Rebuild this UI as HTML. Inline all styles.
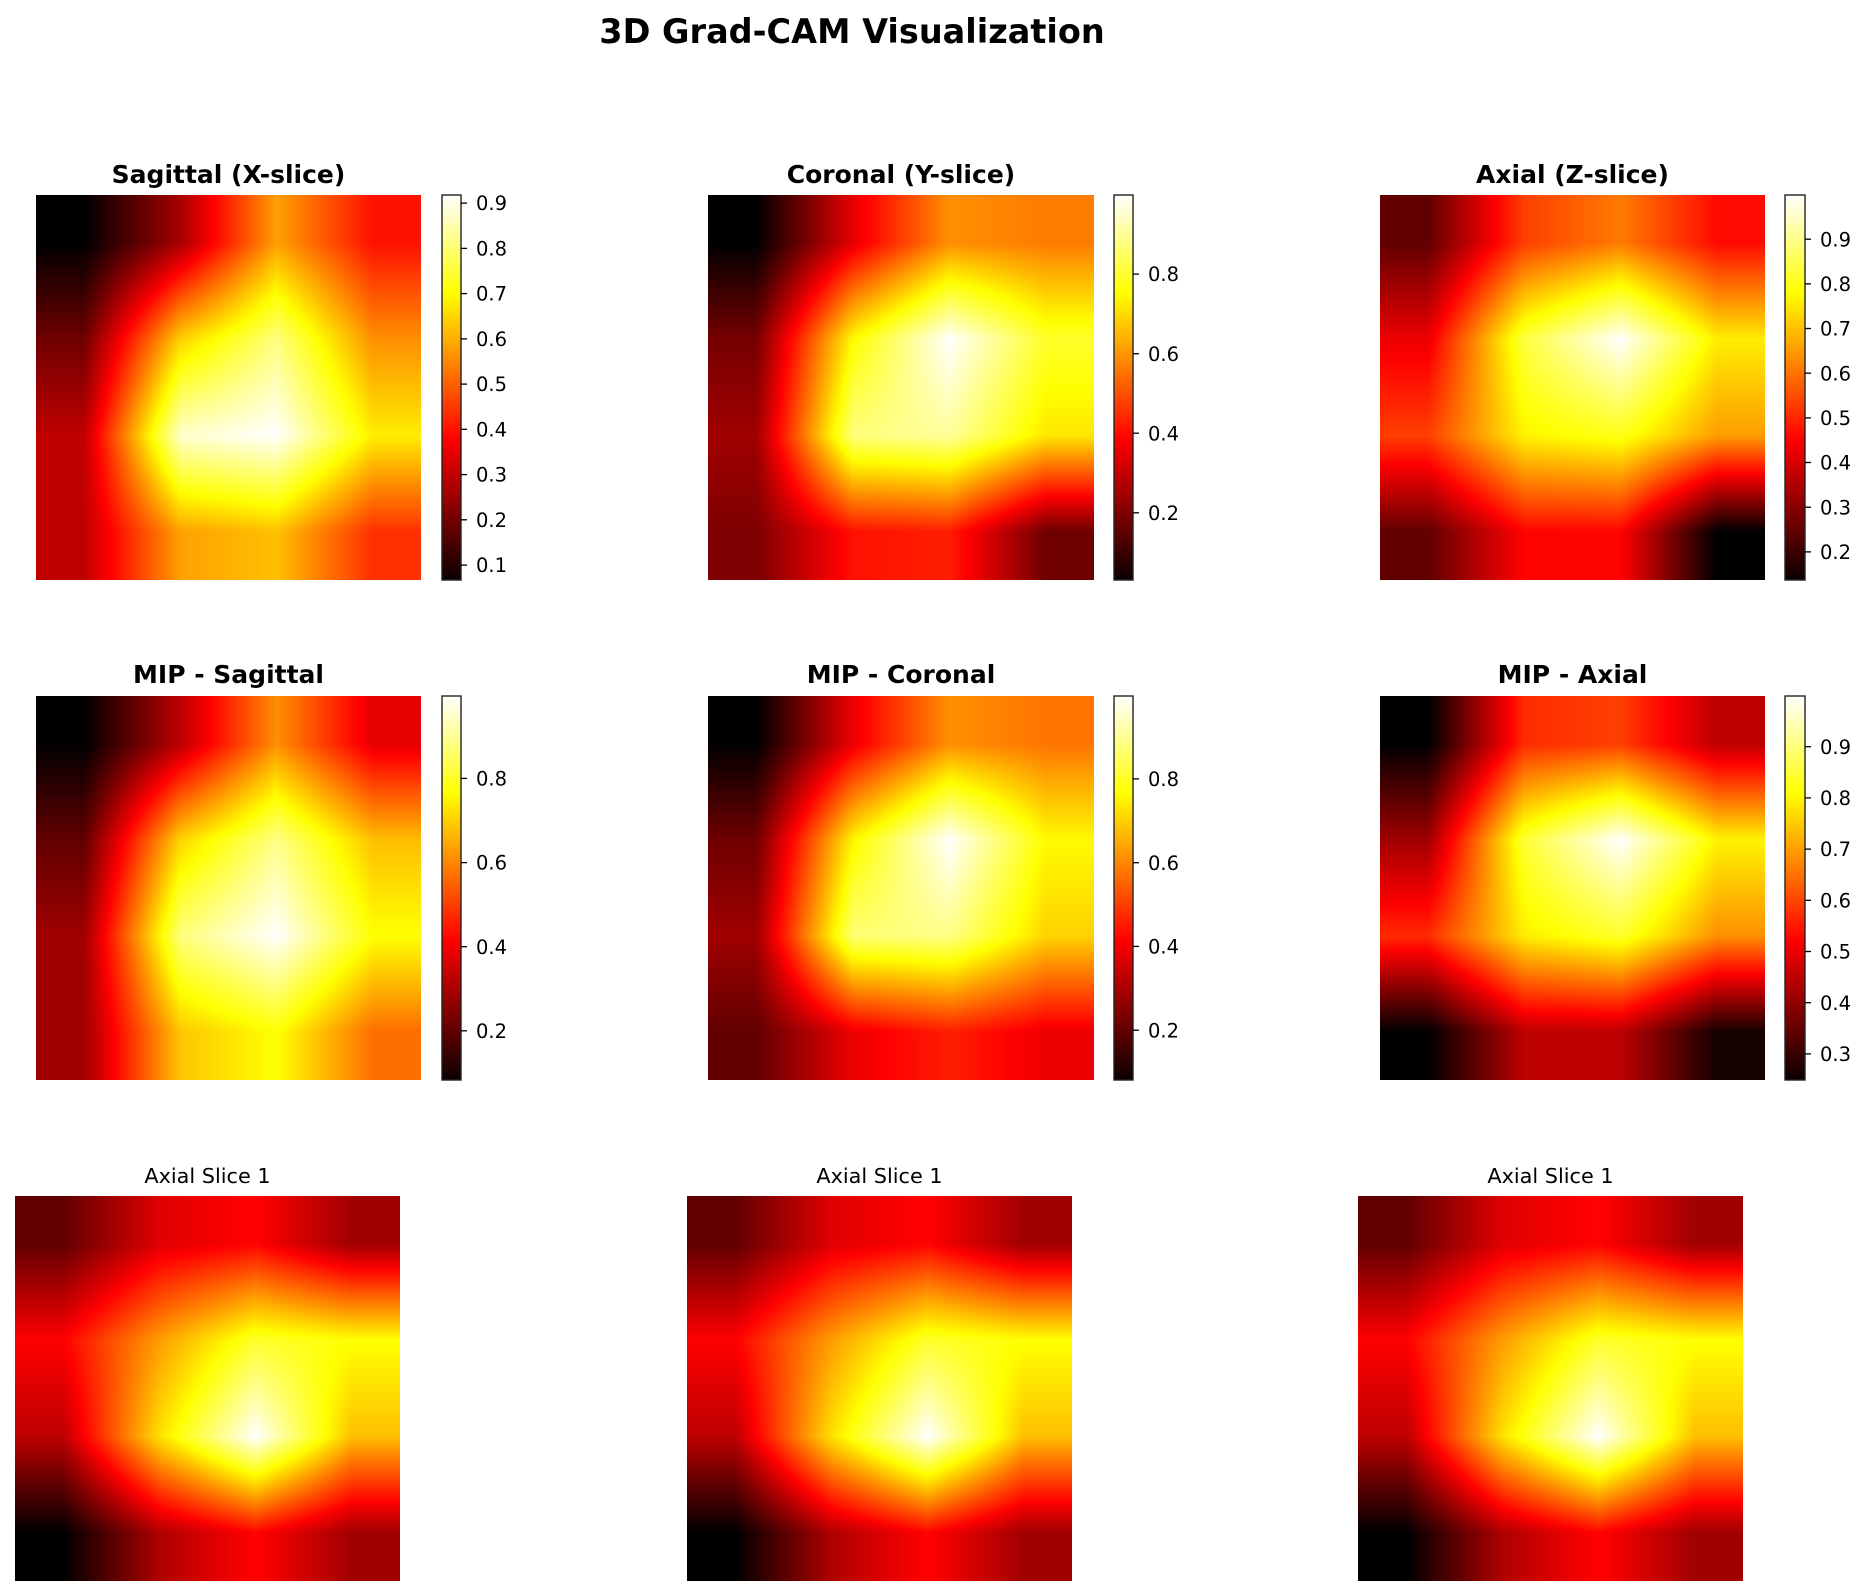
<!DOCTYPE html>
<html>
<head>
<meta charset="utf-8">
<style>
html,body{margin:0;padding:0;background:#fff;}
#wrap{position:relative;width:1867px;height:1596px;overflow:hidden;background:#fff;}
canvas{position:absolute;display:block;}
svg{position:absolute;left:0;top:0;}
text{font-family:"DejaVu Sans","Liberation Sans",sans-serif;fill:#000;}
</style>
</head>
<body>
<div id="wrap">
<canvas id="m0" width="385" height="385" style="left:36px;top:195px;width:385px;height:385px"></canvas>
<canvas id="m1" width="386" height="385" style="left:708px;top:195px;width:386px;height:385px"></canvas>
<canvas id="m2" width="385" height="385" style="left:1380px;top:195px;width:385px;height:385px"></canvas>
<canvas id="m3" width="385" height="384" style="left:36px;top:696px;width:385px;height:384px"></canvas>
<canvas id="m4" width="386" height="384" style="left:708px;top:696px;width:386px;height:384px"></canvas>
<canvas id="m5" width="385" height="384" style="left:1380px;top:696px;width:385px;height:384px"></canvas>
<canvas id="m6" width="385" height="385" style="left:15px;top:1196px;width:385px;height:385px"></canvas>
<canvas id="m7" width="385" height="385" style="left:687px;top:1196px;width:385px;height:385px"></canvas>
<canvas id="m8" width="385" height="385" style="left:1358px;top:1196px;width:385px;height:385px"></canvas>

<svg width="1867" height="1596" viewBox="0 0 1867 1596">
<defs>
<linearGradient id="hot" x1="0" y1="1" x2="0" y2="0">
<stop offset="0" stop-color="#0b0000"/>
<stop offset="0.365" stop-color="#ff0000"/>
<stop offset="0.746" stop-color="#ffff00"/>
<stop offset="1" stop-color="#ffffff"/>
</linearGradient>
</defs>

<text x="852" y="43" font-size="33.5" font-weight="bold" text-anchor="middle">3D Grad-CAM Visualization</text>

<text x="228.5" y="183" font-size="25" font-weight="bold" text-anchor="middle">Sagittal (X-slice)</text>
<text x="901" y="183" font-size="25" font-weight="bold" text-anchor="middle">Coronal (Y-slice)</text>
<text x="1572.5" y="183" font-size="25" font-weight="bold" text-anchor="middle">Axial (Z-slice)</text>

<text x="228.5" y="683" font-size="25" font-weight="bold" text-anchor="middle">MIP - Sagittal</text>
<text x="901" y="683" font-size="25" font-weight="bold" text-anchor="middle">MIP - Coronal</text>
<text x="1572.5" y="683" font-size="25" font-weight="bold" text-anchor="middle">MIP - Axial</text>

<text x="207.5" y="1183" font-size="20.8" text-anchor="middle">Axial Slice 1</text>
<text x="879.5" y="1183" font-size="20.8" text-anchor="middle">Axial Slice 1</text>
<text x="1550.5" y="1183" font-size="20.8" text-anchor="middle">Axial Slice 1</text>

<!-- colorbars -->
<rect x="442" y="195" width="19" height="385" fill="url(#hot)" stroke="#222" stroke-width="1.4"/>
<rect x="1114" y="195" width="19" height="385" fill="url(#hot)" stroke="#222" stroke-width="1.4"/>
<rect x="1785" y="195" width="20" height="385" fill="url(#hot)" stroke="#222" stroke-width="1.4"/>
<rect x="442" y="696" width="19" height="384" fill="url(#hot)" stroke="#222" stroke-width="1.4"/>
<rect x="1114" y="696" width="19" height="384" fill="url(#hot)" stroke="#222" stroke-width="1.4"/>
<rect x="1785" y="696" width="20" height="384" fill="url(#hot)" stroke="#222" stroke-width="1.4"/>

<g stroke="#000" stroke-width="1.3">
<!-- cb1 -->
<line x1="461" x2="467" y1="203.1" y2="203.1"/><line x1="461" x2="467" y1="248.4" y2="248.4"/><line x1="461" x2="467" y1="293.6" y2="293.6"/><line x1="461" x2="467" y1="338.9" y2="338.9"/><line x1="461" x2="467" y1="384.1" y2="384.1"/><line x1="461" x2="467" y1="429.3" y2="429.3"/><line x1="461" x2="467" y1="474.6" y2="474.6"/><line x1="461" x2="467" y1="519.8" y2="519.8"/><line x1="461" x2="467" y1="565.1" y2="565.1"/>
<!-- cb2 -->
<line x1="1133" x2="1139" y1="274.1" y2="274.1"/><line x1="1133" x2="1139" y1="353.7" y2="353.7"/><line x1="1133" x2="1139" y1="433.2" y2="433.2"/><line x1="1133" x2="1139" y1="512.8" y2="512.8"/>
<!-- cb3 -->
<line x1="1805" x2="1811" y1="239.2" y2="239.2"/><line x1="1805" x2="1811" y1="283.9" y2="283.9"/><line x1="1805" x2="1811" y1="328.5" y2="328.5"/><line x1="1805" x2="1811" y1="373.2" y2="373.2"/><line x1="1805" x2="1811" y1="417.9" y2="417.9"/><line x1="1805" x2="1811" y1="462.5" y2="462.5"/><line x1="1805" x2="1811" y1="507.2" y2="507.2"/><line x1="1805" x2="1811" y1="551.9" y2="551.9"/>
<!-- cb4 -->
<line x1="461" x2="467" y1="778.4" y2="778.4"/><line x1="461" x2="467" y1="862.6" y2="862.6"/><line x1="461" x2="467" y1="946.7" y2="946.7"/><line x1="461" x2="467" y1="1030.8" y2="1030.8"/>
<!-- cb5 -->
<line x1="1133" x2="1139" y1="778.9" y2="778.9"/><line x1="1133" x2="1139" y1="862.7" y2="862.7"/><line x1="1133" x2="1139" y1="946.4" y2="946.4"/><line x1="1133" x2="1139" y1="1030.2" y2="1030.2"/>
<!-- cb6 -->
<line x1="1805" x2="1811" y1="746.7" y2="746.7"/><line x1="1805" x2="1811" y1="797.9" y2="797.9"/><line x1="1805" x2="1811" y1="849.1" y2="849.1"/><line x1="1805" x2="1811" y1="900.3" y2="900.3"/><line x1="1805" x2="1811" y1="951.5" y2="951.5"/><line x1="1805" x2="1811" y1="1002.7" y2="1002.7"/><line x1="1805" x2="1811" y1="1053.9" y2="1053.9"/>
</g>

<g font-size="19.5">
<text x="476" y="210.2">0.9</text><text x="476" y="255.5">0.8</text><text x="476" y="300.7">0.7</text><text x="476" y="346">0.6</text><text x="476" y="391.2">0.5</text><text x="476" y="436.4">0.4</text><text x="476" y="481.7">0.3</text><text x="476" y="526.9">0.2</text><text x="476" y="572.2">0.1</text>

<text x="1148" y="281.2">0.8</text><text x="1148" y="360.8">0.6</text><text x="1148" y="440.3">0.4</text><text x="1148" y="519.9">0.2</text>

<text x="1820" y="246.3">0.9</text><text x="1820" y="291">0.8</text><text x="1820" y="335.6">0.7</text><text x="1820" y="380.3">0.6</text><text x="1820" y="425">0.5</text><text x="1820" y="469.6">0.4</text><text x="1820" y="514.3">0.3</text><text x="1820" y="559">0.2</text>

<text x="476" y="785.5">0.8</text><text x="476" y="869.7">0.6</text><text x="476" y="953.8">0.4</text><text x="476" y="1037.9">0.2</text>

<text x="1148" y="786">0.8</text><text x="1148" y="869.8">0.6</text><text x="1148" y="953.5">0.4</text><text x="1148" y="1037.3">0.2</text>

<text x="1820" y="753.8">0.9</text><text x="1820" y="805">0.8</text><text x="1820" y="856.2">0.7</text><text x="1820" y="907.4">0.6</text><text x="1820" y="958.6">0.5</text><text x="1820" y="1009.8">0.4</text><text x="1820" y="1061">0.3</text>
</g>
</svg>
</div>

<script>
(function(){
  function cl(v){return v<0?0:(v>1?1:v);}
  function hot(t){
    return [cl(t/0.365079)*255, cl((t-0.365079)/0.380953)*255, cl((t-0.746032)/0.253968)*255];
  }
  var grids = [
    [[0.0,0.24,0.605,0.39],[0.16,0.676,0.873,0.58],[0.275,0.95,1.0,0.72],[0.275,0.605,0.653,0.436]],
    [[0.0,0.33,0.58,0.55],[0.17,0.74,1.0,0.79],[0.23,0.87,0.9,0.71],[0.18,0.39,0.41,0.16]],
    [[0.14,0.46,0.55,0.38],[0.34,0.81,1.0,0.72],[0.46,0.73,0.77,0.6],[0.14,0.37,0.37,0.0]],
    [[0.0,0.27,0.58,0.33],[0.14,0.68,0.88,0.65],[0.23,0.87,1.0,0.75],[0.23,0.66,0.75,0.53]],
    [[0.0,0.34,0.58,0.54],[0.16,0.73,1.0,0.74],[0.23,0.86,0.88,0.68],[0.14,0.34,0.41,0.34]],
    [[0.0,0.43,0.46,0.27],[0.23,0.8,1.0,0.73],[0.43,0.72,0.79,0.58],[0.0,0.27,0.27,0.03]],
    [[0.14,0.32,0.37,0.23],[0.365,0.6,0.79,0.75],[0.27,0.7,1.0,0.65],[0.0,0.25,0.37,0.23]],
    [[0.14,0.32,0.37,0.23],[0.365,0.6,0.79,0.75],[0.27,0.7,1.0,0.65],[0.0,0.25,0.37,0.23]],
    [[0.14,0.32,0.37,0.23],[0.365,0.6,0.79,0.75],[0.27,0.7,1.0,0.65],[0.0,0.25,0.37,0.23]]
  ];
  for(var k=0;k<9;k++){
    var c=document.getElementById('m'+k);
    var w=c.width,h=c.height,ctx=c.getContext('2d');
    var im=ctx.createImageData(w,h),d=im.data,g=grids[k],n=4;
    for(var y=0;y<h;y++){
      var v=(y+0.5)/h*n-0.5; if(v<0)v=0; if(v>n-1)v=n-1;
      var j0=Math.floor(v); if(j0>n-2)j0=n-2; var fy=v-j0;
      for(var x=0;x<w;x++){
        var u=(x+0.5)/w*n-0.5; if(u<0)u=0; if(u>n-1)u=n-1;
        var i0=Math.floor(u); if(i0>n-2)i0=n-2; var fx=u-i0;
        var a=g[j0][i0]*(1-fx)+g[j0][i0+1]*fx;
        var b=g[j0+1][i0]*(1-fx)+g[j0+1][i0+1]*fx;
        var t=a*(1-fy)+b*fy;
        var col=hot(t), p=(y*w+x)*4;
        d[p]=col[0];d[p+1]=col[1];d[p+2]=col[2];d[p+3]=255;
      }
    }
    ctx.putImageData(im,0,0);
  }
})();
</script>
</body>
</html>
